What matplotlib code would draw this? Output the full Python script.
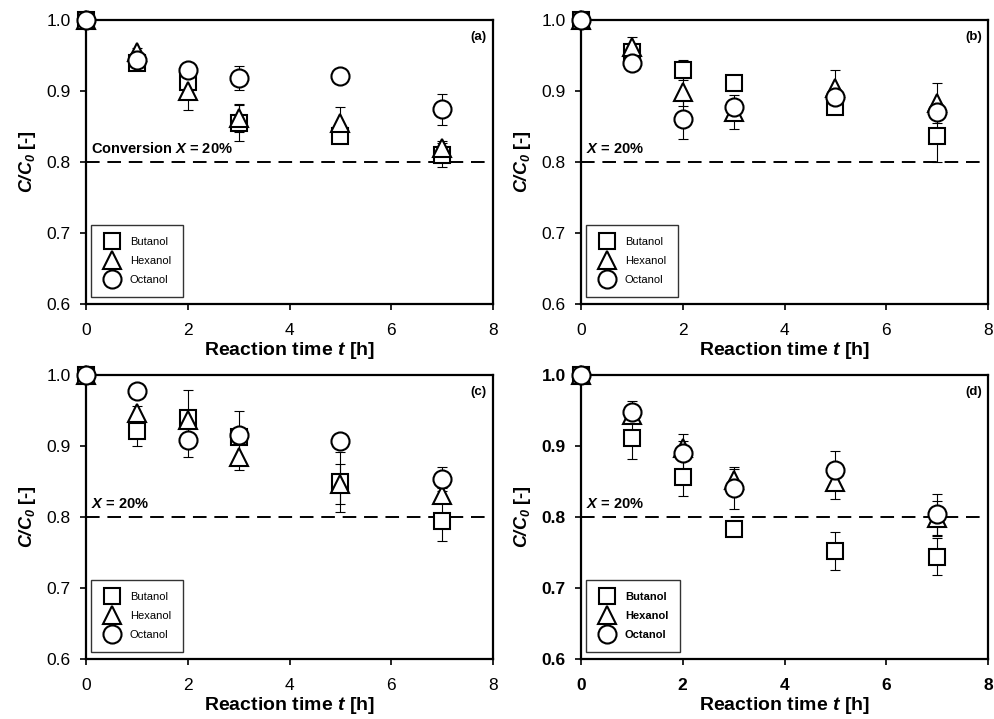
import matplotlib.pyplot as plt
from matplotlib.ticker import FormatStrFormatter

plt.rcParams['font.family'] = ['Liberation Sans', 'DejaVu Sans']
plt.rcParams['mathtext.fontset'] = 'custom'
plt.rcParams['mathtext.rm'] = 'Liberation Sans:bold'
plt.rcParams['mathtext.bf'] = 'Liberation Sans:bold'
plt.rcParams['mathtext.it'] = 'Liberation Sans:bold:italic'
plt.rcParams['mathtext.bfit'] = 'Liberation Sans:bold:italic'

# Data
t = [0, 1, 2, 3, 5, 7]
names = ['Butanol', 'Hexanol', 'Octanol']
markers = ['s', '^', 'o']
panel_labels = ['(a)', '(b)', '(c)', '(d)']
conv_labels = [r'Conversion $X$ = 20%', r'$X$ = 20%', r'$X$ = 20%', r'$X$ = 20%']

# (a)
a_but = [1.0, 0.940, 0.913, 0.855, 0.837, 0.810]
a_hex = [1.0, 0.955, 0.900, 0.862, 0.855, 0.820]
a_oct = [1.0, 0.943, 0.929, 0.918, 0.921, 0.874]
a_but_err = [0, 0.010, 0.020, 0.025, 0.010, 0.017]
a_hex_err = [0, 0.005, 0.027, 0.020, 0.022, 0.010]
a_oct_err = [0, 0.005, 0.005, 0.017, 0.0, 0.022]

# (b)
b_but = [1.0, 0.955, 0.929, 0.911, 0.878, 0.836]
b_hex = [1.0, 0.962, 0.899, 0.871, 0.904, 0.883]
b_oct = [1.0, 0.940, 0.861, 0.878, 0.891, 0.871]
b_but_err = [0, 0.010, 0.014, 0.010, 0.010, 0.036]
b_hex_err = [0, 0.014, 0.020, 0.024, 0.026, 0.028]
b_oct_err = [0, 0.005, 0.028, 0.010, 0.010, 0.010]

# (c)
c_but = [1.0, 0.921, 0.939, 0.912, 0.849, 0.794]
c_hex = [1.0, 0.946, 0.937, 0.885, 0.847, 0.831]
c_oct = [1.0, 0.977, 0.908, 0.915, 0.907, 0.853]
c_but_err = [0, 0.021, 0.040, 0.038, 0.042, 0.028]
c_hex_err = [0, 0.010, 0.010, 0.019, 0.028, 0.010]
c_oct_err = [0, 0.005, 0.023, 0.005, 0.0, 0.017]

# (d)
d_but = [1.0, 0.911, 0.856, 0.783, 0.752, 0.744]
d_hex = [1.0, 0.944, 0.897, 0.852, 0.850, 0.798]
d_oct = [1.0, 0.948, 0.890, 0.841, 0.866, 0.804]
d_but_err = [0, 0.030, 0.026, 0.0, 0.027, 0.026]
d_hex_err = [0, 0.010, 0.010, 0.016, 0.024, 0.025]
d_oct_err = [0, 0.015, 0.027, 0.030, 0.027, 0.029]

panels = [
    ([a_but, a_hex, a_oct], [a_but_err, a_hex_err, a_oct_err]),
    ([b_but, b_hex, b_oct], [b_but_err, b_hex_err, b_oct_err]),
    ([c_but, c_hex, c_oct], [c_but_err, c_hex_err, c_oct_err]),
    ([d_but, d_hex, d_oct], [d_but_err, d_hex_err, d_oct_err]),
]

fig = plt.figure(figsize=(9.94, 7.19), dpi=100)
W, H = 994, 719
boxes = [(86, 20), (581, 20), (86, 375), (581, 375)]

for i, ((series, errs), (x0, y0)) in enumerate(zip(panels, boxes)):
    ax = fig.add_axes([x0 / W, 1 - (y0 + 284) / H, 407 / W, 284 / H])
    bold_ticks = (i == 3)

    # line for 20 % conversion
    ax.axhline(0.8, color='black', linestyle=(0, (7, 4)), linewidth=1.4, zorder=1)

    for vals, err, m, name in zip(series, errs, markers, names):
        ax.errorbar(t, vals, yerr=err, fmt='none', ecolor='black', elinewidth=0.8,
                    capsize=3.5, capthick=0.8, zorder=2)
        ms = 12 if m == 's' else 13
        ax.plot(t, vals, linestyle='none', marker=m, markersize=ms,
                markerfacecolor='white', markeredgecolor='black', markeredgewidth=1.5,
                label=name, zorder=3, clip_on=False)

    ax.set_xlim(0, 8)
    ax.set_ylim(0.6, 1.0)
    ax.set_xticks([0, 2, 4, 6, 8])
    ax.set_yticks([0.6, 0.7, 0.8, 0.9, 1.0])
    ax.yaxis.set_major_formatter(FormatStrFormatter('%.1f'))
    ax.tick_params(direction='out', length=4, width=1.2, labelsize=12.5)
    ax.tick_params(axis='x', pad=10)
    ax.tick_params(axis='y', pad=7)
    if bold_ticks:
        for lbl in ax.get_xticklabels() + ax.get_yticklabels():
            lbl.set_fontweight('bold')
    for sp in ax.spines.values():
        sp.set_linewidth(1.6)

    ax.set_xlabel(r'Reaction time $\mathbfit{t}$ [h]', fontsize=14, fontweight='bold', labelpad=1)
    ax.set_ylabel(r'$\mathbfit{C/C_0}$ [-]', fontsize=13, fontweight='bold', labelpad=6)

    ax.text(0.985, 0.96, panel_labels[i], transform=ax.transAxes, ha='right', va='top',
            fontsize=9.5, fontweight='bold')
    ax.text(0.1, 0.808, conv_labels[i], ha='left', va='bottom', fontsize=10.5, fontweight='bold')

    leg = ax.legend(loc='lower left', bbox_to_anchor=(0.012, 0.025), frameon=True, fancybox=False,
                    edgecolor='black', handlelength=1.6, handletextpad=0.8,
                    labelspacing=0.8, borderpad=1.1, borderaxespad=0,
                    prop={'size': 8, 'weight': 'bold' if bold_ticks else 'normal'})
    leg.get_frame().set_linewidth(1.0)

plt.savefig('out.png', dpi=100)
